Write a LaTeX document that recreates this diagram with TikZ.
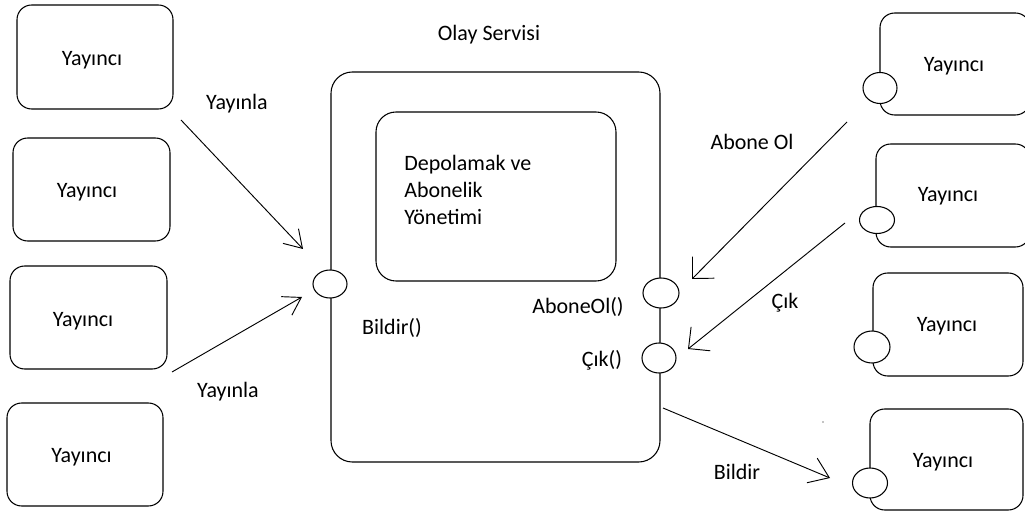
\documentclass[tikz,border=0pt]{standalone}
\usepackage{fontspec}
\setmainfont{Carlito}
\usetikzlibrary{arrows.meta,shapes.geometric}

\tikzset{
  txt/.style={font=\fontsize{16.5}{19.5}\selectfont, inner sep=0pt},
  box/.style={draw, line width=0.8pt, rounded corners=11pt, inner sep=0pt},
  bigbox/.style={draw, line width=0.8pt, rounded corners=16pt, inner sep=0pt},
  port/.style={draw, ellipse, fill=white, line width=0.8pt, inner sep=0pt},
  arrL/.style={line width=0.7pt, -{Straight Barb[length=12.7pt,width=16pt]}},
  arrR/.style={line width=0.7pt, -{Straight Barb[length=11.7pt,width=23pt]}},
  arrB/.style={line width=0.7pt, -{Straight Barb[length=14pt,width=20pt]}},
}

\begin{document}
\begin{tikzpicture}[x=0.75pt, y=-0.75pt]
  \fill[white] (0,0) rectangle (1025,516);
  \useasboundingbox (0,0) rectangle (1025,516);
  \clip (0,0) rectangle (1025,516);

  % publishers on the left
  \node[box, minimum width=117pt, minimum height=78pt] (p1) at (95,57) {};
  \node[txt] (p1t) at (92,60) {Yayıncı};
  \node[box, minimum width=117.75pt, minimum height=77.25pt] (p2) at (91.5,189.5) {};
  \node[txt] (p2t) at (87,192) {Yayıncı};
  \node[box, minimum width=117.75pt, minimum height=77.25pt] (p3) at (88.5,317.5) {};
  \node[txt] (p3t) at (83,321) {Yayıncı};
  \node[box, minimum width=117pt, minimum height=77.25pt] (p4) at (85,454.5) {};
  \node[txt] (p4t) at (81.5,457) {Yayıncı};

  % event service
  \node[txt] (title) at (489,35) {Olay Servisi};
  \node[bigbox, minimum width=246.75pt, minimum height=292.5pt] (svc) at (495.5,267) {};
  \node[bigbox, rounded corners=15pt, minimum width=180pt, minimum height=126.75pt] (store) at (496,196.5) {};
  \node[txt, anchor=west, align=left] (storetxt) at (404,190)
    {Depolamak ve\\[1pt]Abonelik\\[1pt]Yönetimi};

  \node[port, minimum width=25.5pt, minimum height=21pt] (pin) at (330,284) {};
  \node[port, minimum width=27pt, minimum height=22.5pt] (psub) at (661,293) {};
  \node[port, minimum width=25.5pt, minimum height=22.5pt] (punsub) at (659,358) {};

  \node[txt] (lnotify) at (392,328) {Bildir()};
  \node[txt] (lsub) at (578,307) {AboneOl()};
  \node[txt] (lunsub) at (602,360) {Çık()};

  % subscribers on the right
  \node[box, minimum width=112.5pt, minimum height=76.5pt] (s1) at (955,64) {};
  \node[txt] (s1t) at (954,66) {Yayıncı};
  \node[port, minimum width=25.5pt, minimum height=23.25pt] (s1p) at (880,88) {};

  \node[box, minimum width=115.5pt, minimum height=77.25pt] (s2) at (953,195.5) {};
  \node[txt] (s2t) at (948,196) {Yayıncı};
  \node[port, minimum width=26.25pt, minimum height=20.25pt] (s2p) at (877,220) {};

  \node[box, minimum width=112.5pt, minimum height=77.25pt] (s3) at (948,324.5) {};
  \node[txt] (s3t) at (947,326) {Yayıncı};
  \node[port, minimum width=27pt, minimum height=24pt] (s3p) at (872,347) {};

  \node[box, minimum width=114.75pt, minimum height=75.75pt] (s4) at (946.5,459.5) {};
  \node[txt] (s4t) at (943,462) {Yayıncı};
  \node[port, minimum width=26.25pt, minimum height=22.5pt] (s4p) at (870,483) {};

  % connector end points
  \coordinate (a1s) at (181,120);
  \coordinate (a1e) at (303,249);
  \coordinate (a2s) at (172,372);
  \coordinate (a2e) at (302,297);
  \coordinate (a3s) at (847,122);
  \coordinate (a3e) at (692,279);
  \coordinate (a4s) at (845,223);
  \coordinate (a4e) at (688,349);
  \coordinate (a5s) at (663,408);
  \coordinate (a5e) at (830,478);

  \draw[arrL] (a1s) -- (a1e);
  \draw[arrL] (a2s) -- (a2e);
  \draw[arrR] (a3s) -- (a3e);
  \draw[arrR] (a4s) -- (a4e);
  \draw[arrB] (a5s) -- (a5e);

  % connector labels
  \node[txt] (l1) at (237,104) {Yayınla};
  \node[txt] (l2) at (228,392) {Yayınla};
  \node[txt] (l3) at (752,142) {Abone Ol};
  \node[txt] (l4) at (785,303) {Çık};
  \node[txt] (l5) at (737,472) {Bildir};

  \fill (823,422) circle (0.6);
\end{tikzpicture}
\end{document}
